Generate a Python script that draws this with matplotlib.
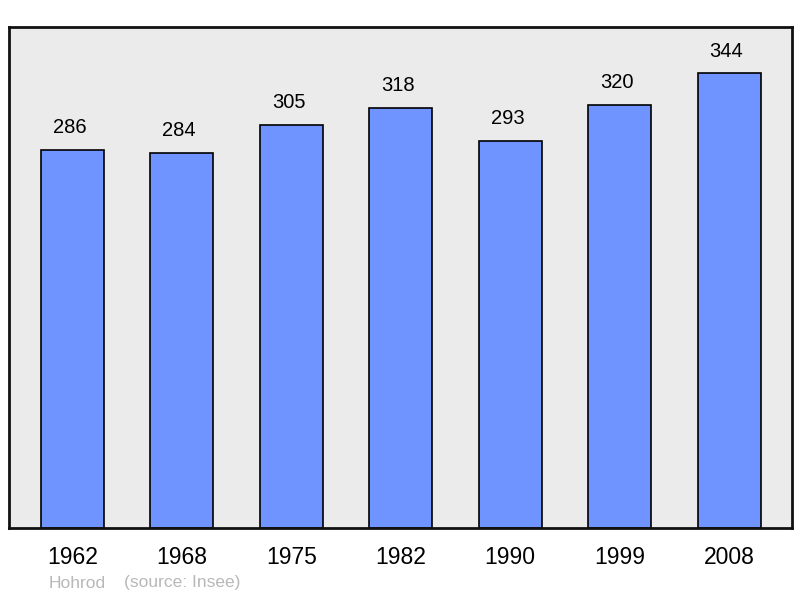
import matplotlib.pyplot as plt
import numpy as np

years = ["1962", "1968", "1975", "1982", "1990", "1999", "2008"]
population = [286, 284, 305, 318, 293, 320, 344]
place = "Hohrod"
source = "(source: Insee)"

plt.rcParams['font.family'] = ['Liberation Sans', 'DejaVu Sans']

fig = plt.figure(figsize=(8, 5.98), dpi=100)
ax = fig.add_axes([9/800, 70/598, 783/800, 501/598])
ax.set_facecolor("#ebebeb")

x = np.arange(len(years))
bars = ax.bar(x, population, width=0.575, color="#7094ff", edgecolor="black",
              linewidth=1.2, zorder=2)
for b, v in zip(bars, population):
    ax.annotate(str(v), (b.get_x() + b.get_width()/2, v), xytext=(-2, 16),
                textcoords="offset points", ha="center", va="center", fontsize=14.5)

ax.set_xlim(-0.58, len(years) - 1 + 0.575)
ax.set_ylim(0, 379)
ax.set_yticks([])
ax.set_xticks(x)
ax.set_xticklabels(years, fontsize=16.5)
ax.tick_params(axis="x", length=0, pad=13)
for s in ax.spines.values():
    s.set_linewidth(2)
    s.set_color("#111111")

fig.text(49/800, 1 - 583/598, place, fontsize=12.5, color="#b8b8b8", va="center")
fig.text(124/800, 1 - 583/598, source, fontsize=12.5, color="#b8b8b8", va="center")

fig.savefig("out.png", dpi=100)
